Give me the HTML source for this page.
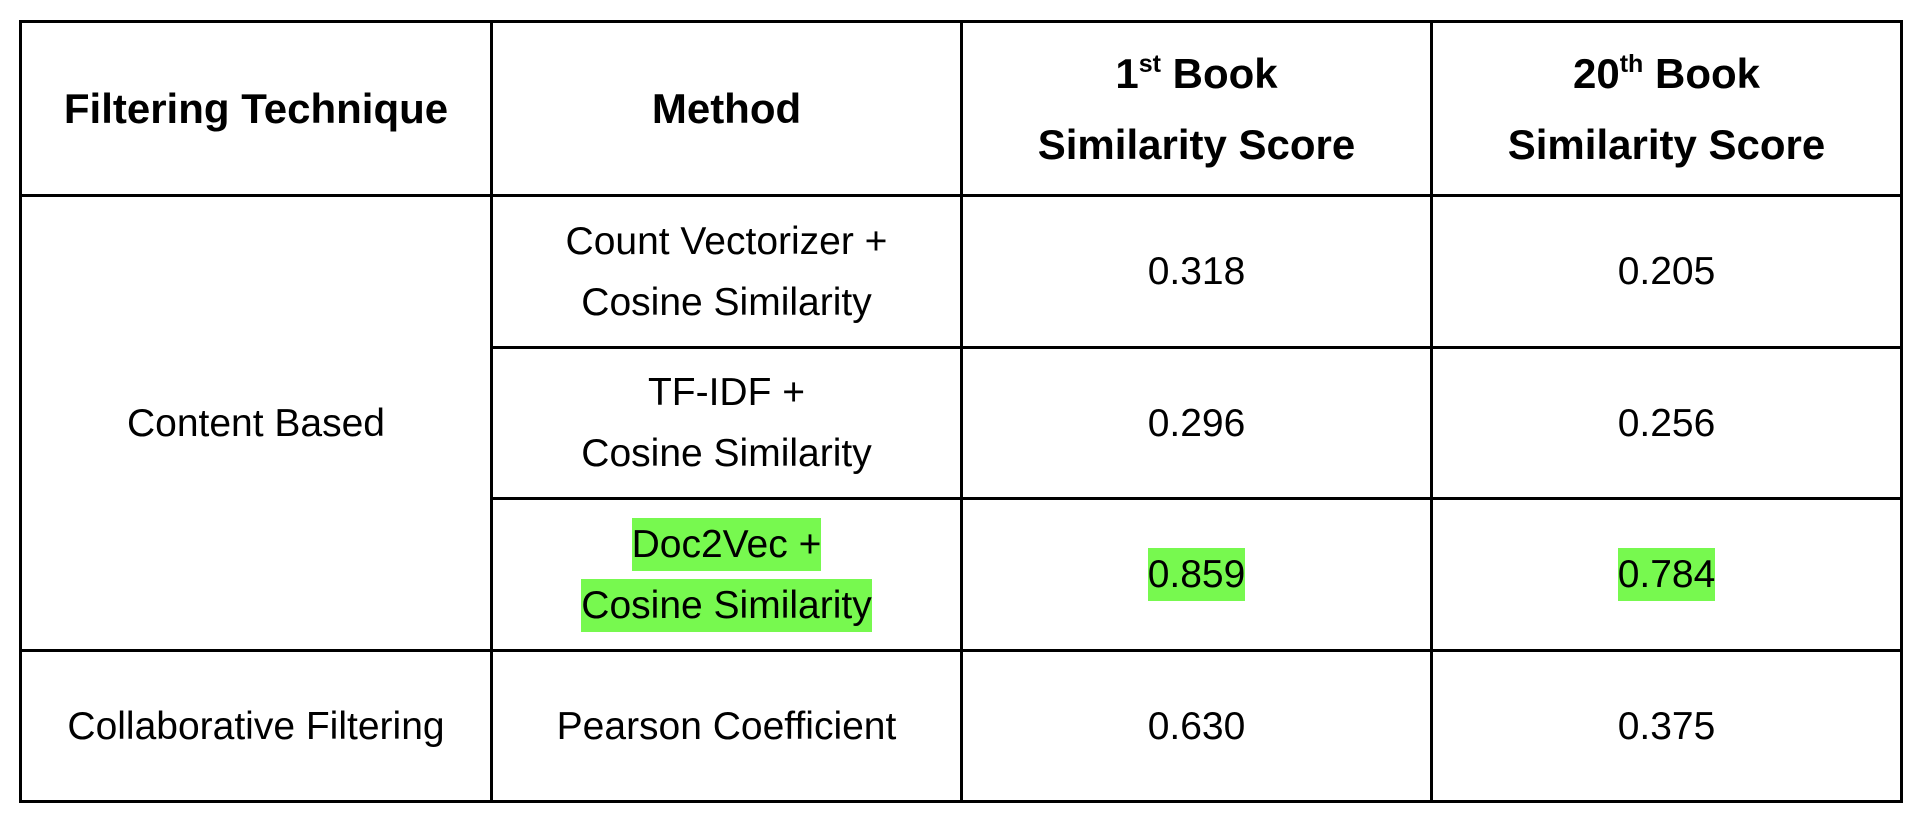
<!DOCTYPE html>
<html><head><meta charset="utf-8"><style>
html,body{margin:0;padding:0;background:#fff;width:1920px;height:824px;overflow:hidden}
table{position:absolute;left:19px;top:20px;border-collapse:collapse;table-layout:fixed;font-family:"Liberation Sans",sans-serif;color:#000}
td,th{border:3px solid #000;text-align:center;vertical-align:middle;padding:0;font-size:39px;line-height:61px;font-weight:normal;white-space:nowrap}
th{font-weight:bold;font-size:42px;line-height:71px}
sup{font-size:25px;line-height:0;vertical-align:16px}
.hl{background:#77f94f;padding:5px 0}
</style></head><body>
<table>
<colgroup><col style="width:471px"><col style="width:470px"><col style="width:470px"><col style="width:470px"></colgroup>
<tr style="height:174px">
<th>Filtering Technique</th>
<th>Method</th>
<th>1<sup>st</sup> Book<br>Similarity Score</th>
<th>20<sup>th</sup> Book<br>Similarity Score</th>
</tr>
<tr style="height:152px">
<td rowspan="3">Content Based</td>
<td>Count Vectorizer +<br>Cosine Similarity</td>
<td>0.318</td>
<td>0.205</td>
</tr>
<tr style="height:151px">
<td>TF-IDF +<br>Cosine Similarity</td>
<td>0.296</td>
<td>0.256</td>
</tr>
<tr style="height:152px">
<td><span class="hl">Doc2Vec +</span><br><span class="hl">Cosine Similarity</span></td>
<td><span class="hl">0.859</span></td>
<td><span class="hl">0.784</span></td>
</tr>
<tr style="height:151px">
<td>Collaborative Filtering</td>
<td>Pearson Coefficient</td>
<td>0.630</td>
<td>0.375</td>
</tr>
</table>
</body></html>
